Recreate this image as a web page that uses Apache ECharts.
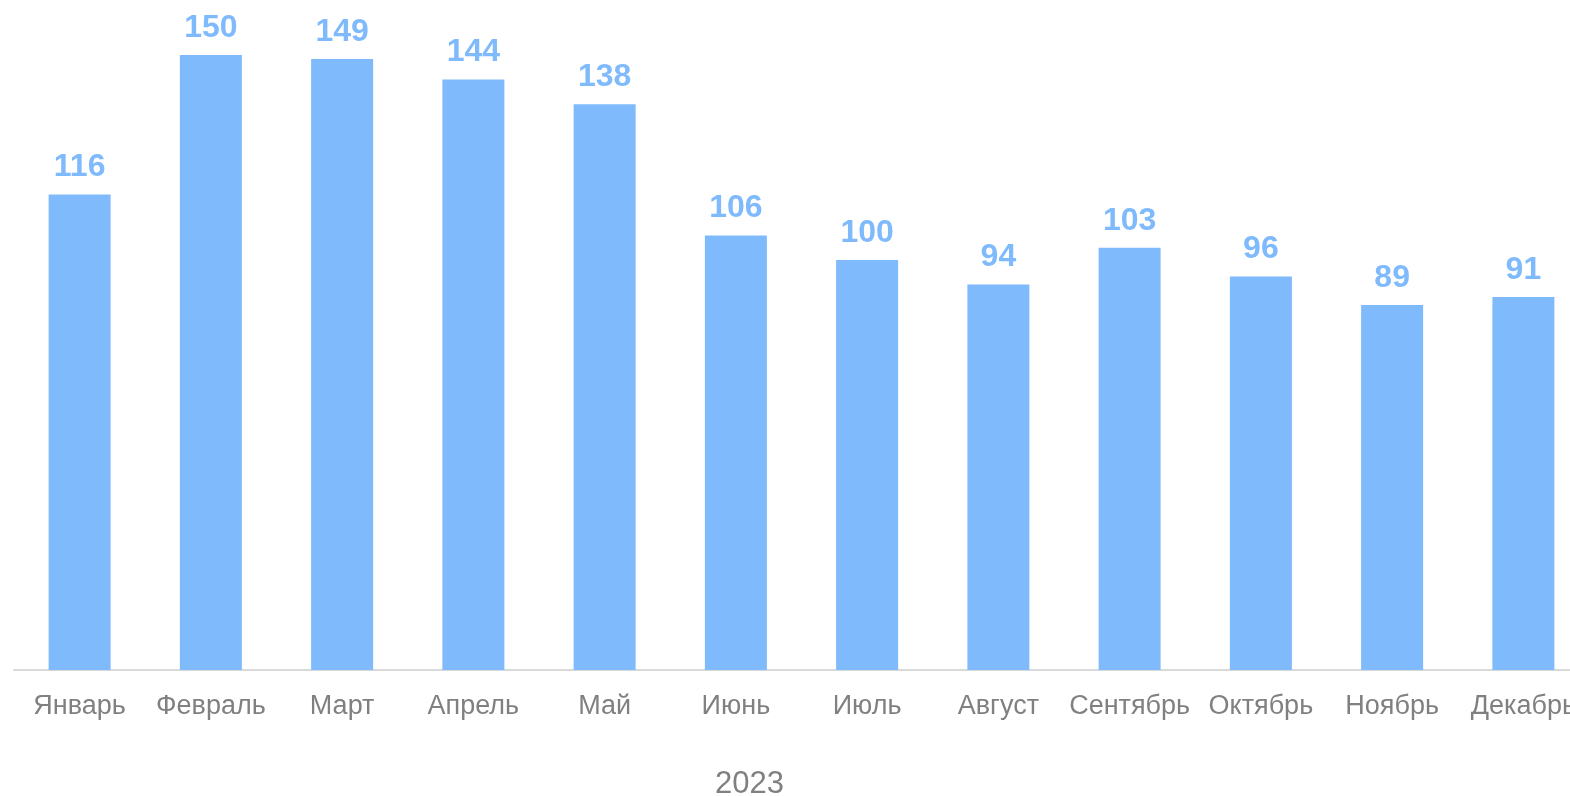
<!DOCTYPE html>
<html><head><meta charset="utf-8">
<script src="https://cdn.jsdelivr.net/npm/echarts@6/dist/echarts.min.js"></script>
<style>html,body{margin:0;padding:0;overflow:hidden;background:#fff}#c{width:1590px;height:796px}</style>
</head><body><div id="c"></div>
<script>
const categories = ['Январь','Февраль','Март','Апрель','Май','Июнь','Июль','Август','Сентябрь','Октябрь','Ноябрь','Декабрь'];
const values = [116,150,149,144,138,106,100,94,103,96,89,91];
const yearLabel = '2023';
const chart = echarts.init(document.getElementById('c'));
chart.setOption({
  animation:false,
  textStyle:{fontFamily:'Liberation Sans, Arial, sans-serif'},
  title:{text:yearLabel,left:715,top:769,padding:0,textStyle:{fontSize:31,fontWeight:'normal',color:'#808080',fontFamily:'Liberation Sans, Arial, sans-serif'}},
  grid:{left:14,right:1,top:14,bottom:126,containLabel:false},
  xAxis:{type:'category',data:categories,
    axisLine:{lineStyle:{color:'#d9d9d9',width:2}},axisTick:{show:false},
    axisLabel:{fontSize:27,color:'#808080',margin:23,interval:0,fontFamily:'Liberation Sans, Arial, sans-serif'}},
  yAxis:{type:'value',min:0,max:160,show:false,splitLine:{show:false}},
  series:[{type:'bar',data:values,barWidth:62,itemStyle:{color:'#7fbafc'},
    label:{show:true,position:'top',distance:11,fontSize:32,fontWeight:'bold',color:'#7fbafc',fontFamily:'Liberation Sans, Arial, sans-serif'}}]
});
</script></body></html>
